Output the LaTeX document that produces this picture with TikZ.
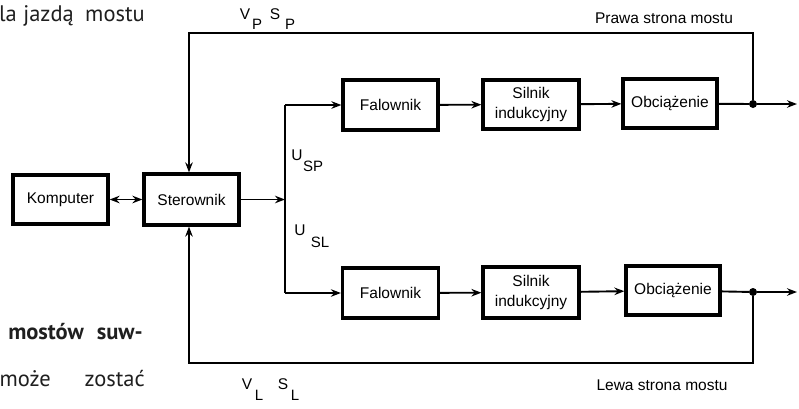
\documentclass[tikz,border=0pt]{standalone}
\usepackage{fontspec}
\setmainfont{Liberation Sans}
\newfontfamily\pagefont{PT Sans}
\usetikzlibrary{arrows.meta}
\begin{document}
\begin{tikzpicture}[x=1pt,y=-1pt,
  blk/.style={draw, line width=3.2pt, minimum width=95pt, minimum height=49pt,
    inner sep=0pt, font=\fontsize{15.5}{20}\selectfont, align=center},
  conn/.style={line width=1.9pt},
  tip/.style={-{Stealth[length=10pt,width=7.5pt]}},
  lbl/.style={font=\fontsize{15.5}{17}\selectfont, inner sep=0pt},
  sub/.style={font=\fontsize{15}{16}\selectfont, inner sep=0pt},
  body/.style={font=\pagefont\fontsize{22.5}{26}\selectfont, inner sep=0pt, text=black!88},
  bodyb/.style={body, font=\pagefont\bfseries\fontsize{22.5}{26}\selectfont},
  dot/.style={circle, fill, inner sep=0pt, minimum size=8pt}]
\useasboundingbox (0,0) rectangle (799,408);

% blocks
\node[blk] (komp) at (60.5,199.5) {Komputer};
\node[blk, minimum height=51pt] (ster) at (191.5,199.5) {Sterownik};
\node[blk, minimum height=50pt] (fal1) at (390.5,105) {Falownik};
\node[blk, minimum width=96pt] (sil1) at (531,104.5) {Silnik\\indukcyjny};
\node[blk, minimum width=94pt] (obc1) at (670,103.5) {Obciążenie};
\node[blk, minimum width=96pt, minimum height=50pt] (fal2) at (390.5,293) {Falownik};
\node[blk, minimum width=96pt, minimum height=51pt] (sil2) at (531,292.5) {Silnik\\indukcyjny};
\node[blk, minimum width=94pt] (obc2) at (673,290.5) {Obciążenie};

% junctions and routing points
\node[dot] (j1) at (753,104) {};
\node[dot] (j2) at (753,292) {};
\coordinate (out1) at (797,104);
\coordinate (out2) at (797,292);
\coordinate (bustop) at (285,105);
\coordinate (busmid) at (285,199.5);
\coordinate (busbot) at (285,293);
\coordinate (tr) at (753,33);
\coordinate (tl) at (189,33);
\coordinate (br) at (753,363);
\coordinate (bl) at (189,363);

% signal paths
\draw[conn, {Stealth[length=10pt,width=7.5pt]}-{Stealth[length=10pt,width=7.5pt]}] (komp) -- (ster);
\draw[conn, tip] (ster) -- (busmid);
\draw[conn] (bustop) -- (busbot);
\draw[conn, tip] (bustop) -- (fal1);
\draw[conn, tip] (busbot) -- (fal2);
\draw[conn, tip] (fal1) -- (sil1);
\draw[conn, tip] (sil1) -- (obc1);
\draw[conn, tip] (fal2) -- (sil2);
\draw[conn, tip] (sil2) -- (obc2);
\draw[conn] (obc1) -- (j1);
\draw[conn] (obc2) -- (j2);
\draw[conn, tip] (j1) -- (out1);
\draw[conn, tip] (j2) -- (out2);

% feedback loops
\draw[conn, tip] (j1) -- (tr) -- (tl) -- (tl |- ster.north);
\draw[conn, tip] (j2) -- (br) -- (bl) -- (bl |- ster.south);

% signal labels
\node[lbl] (vp) at (245,14) {V};
\node[sub] (vpi) at (257,24) {P};
\node[lbl] (sp) at (275,14) {S};
\node[sub] (spi) at (290,24) {P};
\node[lbl] (vl) at (247,384) {V};
\node[sub] (vli) at (259,395) {L};
\node[lbl] (sl) at (283,384) {S};
\node[sub] (sli) at (295,395) {L};
\node[lbl] (usp) at (297,155) {U};
\node[sub] (uspi) at (313,166) {SP};
\node[lbl] (usl) at (300,230) {U};
\node[sub] (usli) at (320,242) {SL};
\node[lbl] (prawa) at (664,18) {Prawa strona mostu};
\node[lbl] (lewa) at (662,385) {Lewa strona mostu};

% surrounding page text
\node[body, anchor=base east] (t1c) at (145,21.5) {mostu};
\node[body, anchor=base east] (t1b) at (74,21.5) {jazdą};
\node[body, anchor=base east] (t1a) at (17,21.5) {la};
\node[bodyb, anchor=base east] (t2b) at (143,339) {suw-};
\node[bodyb, anchor=base east] (t2a) at (84,339) {mostów};
\node[body, anchor=base east] (t3b) at (145,386) {zostać};
\node[body, anchor=base east] (t3a) at (51,386) {może};
\end{tikzpicture}
\end{document}
